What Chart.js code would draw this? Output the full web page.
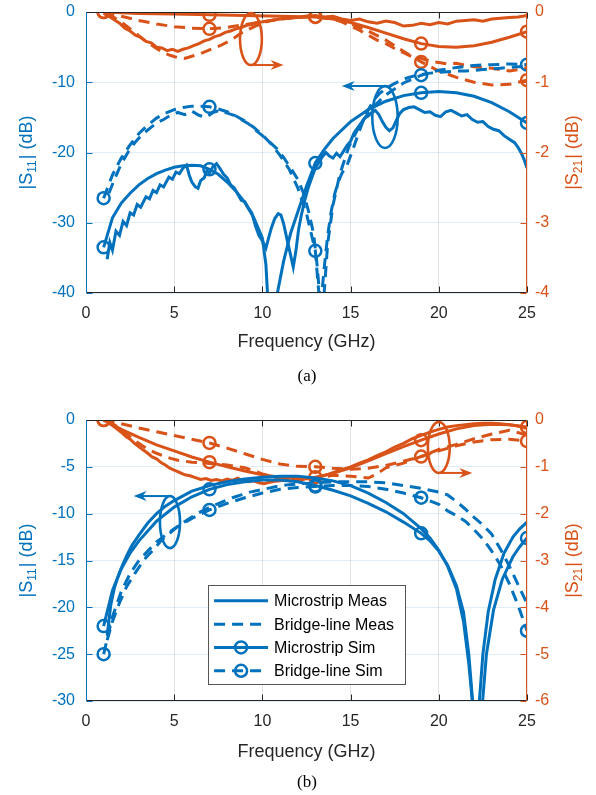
<!DOCTYPE html>
<html>
<head>
<meta charset="utf-8">
<script src="https://cdn.jsdelivr.net/npm/chart.js@4.4.1/dist/chart.umd.min.js"></script>
<style>
  html, body { margin: 0; padding: 0; background: #fff; }
  #page { position: relative; width: 596px; height: 795px; overflow: hidden; }
  canvas { position: absolute; left: 0; }
  #ca { top: 0; }
  #cb { top: 400px; }
  .cap { position: absolute; left: 0; width: 614px; text-align: center; line-height: 20px;
         font: 17px "Liberation Serif", "Times New Roman", serif; color: #000; }
</style>
</head>
<body>
<div id="page">
  <canvas id="ca" width="596" height="400"></canvas>
  <canvas id="cb" width="596" height="395"></canvas>
  <div class="cap" style="top:366px">(a)</div>
  <div class="cap" style="top:772px">(b)</div>
</div>
<script>
const BLUE = '#0072BD';
const ORANGE = '#D95319';
const INK = '#262626';
const FONT = '"Liberation Sans", Arial, Helvetica, sans-serif';

// frequencies (GHz) where the simulated curves carry a marker
const simMarks = [1, 7, 13, 19, 25];
const xTicks = [0, 5, 10, 15, 20, 25];

// ---- (a) |S11| ----
const a_s11MsMeas = [[1.2,-35.2],[1.35,-32.8],[1.5,-33.9],[1.7,-31.2],[1.9,-31.8],[2.1,-29.8],[2.3,-30.4],[2.5,-28.6],[2.7,-28.9],[2.9,-27.4],[3.1,-27.8],[3.4,-26.3],[3.6,-26.6],[3.8,-25.4],[4.0,-25.7],[4.2,-24.6],[4.4,-24.9],[4.7,-23.5],[4.9,-23.8],[5.1,-22.8],[5.3,-23.0],[5.5,-22.2],[5.7,-21.8],[5.85,-23.2],[6.0,-24.2],[6.2,-24.9],[6.35,-25.1],[6.5,-24.0],[6.7,-23.6],[6.85,-22.6],[7.0,-22.9],[7.2,-22.0],[7.4,-21.6],[7.6,-22.3],[7.8,-23.1],[8.0,-23.6],[8.2,-24.6],[8.4,-25.0],[8.6,-25.9],[8.8,-26.8],[9.0,-27.0],[9.2,-27.9],[9.4,-28.6],[9.6,-30.4],[9.8,-31.8],[10.0,-32.6],[10.2,-33.6],[10.35,-32.2],[10.5,-30.8],[10.7,-29.4],[10.9,-28.7],[11.05,-28.9],[11.2,-30.1],[11.4,-32.4],[11.6,-34.6],[11.75,-36.3],[11.9,-34.0],[12.05,-31.0],[12.2,-29.0],[12.4,-26.8],[12.6,-25.0],[12.8,-23.6],[13.0,-22.2],[13.2,-21.4],[13.4,-20.6],[13.6,-20.0],[13.8,-20.5],[14.0,-20.8],[14.2,-20.1],[14.4,-20.6],[14.6,-19.8],[14.8,-19.0],[15.0,-18.4],[15.2,-17.2],[15.4,-16.5],[15.6,-15.8],[15.8,-15.1],[16.0,-14.8],[16.2,-14.3],[16.4,-14.0],[16.6,-14.6],[16.8,-15.6],[17.0,-16.4],[17.2,-16.9],[17.4,-16.5],[17.6,-15.4],[17.8,-14.4],[18.0,-13.9],[18.3,-13.6],[18.6,-13.5],[18.9,-13.9],[19.2,-14.3],[19.5,-14.2],[19.8,-14.7],[20.1,-14.9],[20.4,-14.2],[20.7,-14.0],[21.0,-14.4],[21.3,-14.8],[21.6,-14.6],[21.9,-15.3],[22.2,-15.7],[22.5,-15.6],[22.8,-16.3],[23.1,-16.7],[23.4,-16.9],[23.7,-17.6],[24.0,-18.1],[24.3,-18.6],[24.5,-19.3],[24.7,-20.2],[24.85,-21.1],[25.0,-22.2]];
const a_s11MsSim = [[1,-33.5],[1.5,-29.3],[2,-27.2],[2.5,-25.8],[3,-24.6],[3.5,-23.7],[4,-23.0],[4.5,-22.5],[5,-22.1],[5.5,-21.9],[6,-21.8],[6.5,-21.9],[7,-22.4],[7.5,-23.1],[8,-24.2],[8.5,-25.5],[9,-27.1],[9.5,-29.2],[10,-32.2],[10.2,-36],[10.3,-40.5],[10.45,-46],[10.55,-50],[10.7,-45],[10.85,-40],[11.2,-35.5],[11.6,-31.5],[12,-28.5],[12.5,-24.8],[13,-21.5],[13.5,-19.6],[14,-18.0],[15,-15.6],[16,-13.9],[17,-12.7],[18,-11.9],[19,-11.5],[20,-11.3],[21,-11.5],[22,-12.0],[23,-12.9],[24,-14.2],[25,-15.8]];
const a_s11BlMeas = [[1.3,-25.8],[1.6,-23.9],[2.0,-21.6],[2.4,-19.9],[2.8,-18.5],[3.2,-17.4],[3.6,-16.6],[4.0,-15.8],[4.4,-15.3],[4.8,-14.7],[5.2,-14.3],[5.6,-14.6],[6.0,-14.1],[6.4,-14.7],[6.8,-15.0],[7.2,-14.3],[7.6,-14.0],[8.0,-14.4],[8.4,-14.7],[8.8,-15.3],[9.2,-15.9],[9.6,-16.8],[10.0,-17.6],[10.4,-18.5],[10.8,-19.4],[11.2,-20.7],[11.6,-22.2],[12.0,-23.8],[12.3,-25.6],[12.6,-28.2],[12.9,-31.5],[13.1,-36],[13.3,-42],[13.5,-36.5],[13.7,-31.8],[13.9,-28.4],[14.1,-25.9],[14.3,-24.2],[14.5,-23.0],[14.8,-21.8],[15.1,-19.8],[15.4,-17.6],[15.7,-15.6],[16.0,-13.9],[16.3,-12.6],[16.6,-11.7],[17.0,-10.9],[17.4,-10.3],[17.8,-9.8],[18.2,-9.4],[18.6,-9.1],[19.0,-8.9],[19.5,-8.7],[20.0,-8.6],[20.5,-8.5],[21.0,-8.4],[21.5,-8.4],[22.0,-8.3],[22.5,-8.2],[23.0,-8.1],[23.5,-8.0],[24.0,-7.9],[24.5,-7.8],[25.0,-7.7]];
const a_s11BlSim = [[1,-26.5],[1.5,-23.2],[2,-20.8],[2.5,-18.9],[3,-17.3],[3.5,-16.1],[4,-15.1],[4.5,-14.4],[5,-13.9],[5.5,-13.6],[6,-13.4],[6.5,-13.4],[7,-13.5],[7.5,-13.8],[8,-14.2],[8.5,-14.8],[9,-15.5],[9.5,-16.4],[10,-17.5],[10.5,-18.8],[11,-20.4],[11.5,-22.3],[12,-25.0],[12.5,-28.7],[13,-34],[13.2,-40],[13.35,-46],[13.5,-40],[13.7,-33],[14,-27.5],[14.4,-23],[14.9,-19.2],[15.5,-16.2],[16.2,-13.7],[17,-11.8],[18,-10.1],[19,-9.0],[20,-8.3],[21,-7.9],[22,-7.6],[23,-7.5],[24,-7.4],[25,-7.5]];

// ---- (a) |S21| ----
const a_s21MsMeas = [[1.0,-0.02],[1.3,-0.06],[1.6,-0.11],[1.9,-0.16],[2.2,-0.23],[2.5,-0.27],[2.8,-0.33],[3.1,-0.36],[3.4,-0.42],[3.7,-0.44],[4.0,-0.5],[4.3,-0.51],[4.6,-0.55],[4.9,-0.53],[5.2,-0.56],[5.5,-0.53],[5.8,-0.51],[6.1,-0.48],[6.4,-0.45],[6.7,-0.41],[7.0,-0.39],[7.3,-0.35],[7.6,-0.33],[7.9,-0.29],[8.2,-0.27],[8.5,-0.24],[8.8,-0.22],[9.1,-0.19],[9.4,-0.18],[9.7,-0.15],[10.0,-0.14],[10.5,-0.12],[11.0,-0.1],[11.5,-0.09],[12.0,-0.08],[12.5,-0.06],[13.0,-0.05],[13.5,-0.07],[14.0,-0.06],[14.5,-0.1],[15.0,-0.12],[15.5,-0.1],[16.0,-0.14],[16.5,-0.16],[17.0,-0.13],[17.5,-0.15],[18.0,-0.2],[18.5,-0.19],[19.0,-0.16],[19.5,-0.18],[20.0,-0.15],[20.5,-0.17],[21.0,-0.13],[21.5,-0.12],[22.0,-0.11],[22.5,-0.13],[23.0,-0.1],[23.5,-0.09],[24.0,-0.08],[24.5,-0.07],[25.0,-0.05]];
const a_s21MsSim = [[1,0],[3,-0.02],[5,-0.03],[7,-0.04],[9,-0.05],[11,-0.06],[13,-0.07],[14,-0.1],[15,-0.15],[16,-0.22],[17,-0.3],[18,-0.38],[19,-0.45],[20,-0.49],[21,-0.5],[22,-0.48],[23,-0.43],[24,-0.36],[25,-0.28]];
const a_s21BlMeas = [[1.2,-0.02],[1.6,-0.08],[2.0,-0.14],[2.4,-0.22],[2.8,-0.3],[3.2,-0.38],[3.6,-0.45],[4.0,-0.52],[4.4,-0.58],[4.8,-0.62],[5.2,-0.65],[5.6,-0.66],[6.0,-0.63],[6.4,-0.6],[6.8,-0.56],[7.2,-0.52],[7.6,-0.48],[8.0,-0.43],[8.4,-0.37],[8.8,-0.3],[9.2,-0.25],[9.6,-0.2],[10.0,-0.16],[10.5,-0.12],[11.0,-0.1],[11.5,-0.08],[12.0,-0.07],[12.5,-0.06],[13.0,-0.05],[13.5,-0.08],[14.0,-0.1],[14.5,-0.14],[15.0,-0.2],[15.5,-0.26],[16.0,-0.33],[16.5,-0.4],[17.0,-0.45],[17.5,-0.52],[18.0,-0.58],[18.5,-0.64],[19.0,-0.66],[19.5,-0.7],[20.0,-0.72],[20.5,-0.74],[21.0,-0.73],[21.5,-0.76],[22.0,-0.78],[22.5,-0.79],[23.0,-0.8],[23.5,-0.82],[24.0,-0.84],[24.5,-0.82],[25.0,-0.79]];
const a_s21BlSim = [[1,0],[2,-0.06],[3,-0.12],[4,-0.17],[5,-0.21],[6,-0.23],[7,-0.24],[8,-0.22],[9,-0.18],[10,-0.14],[11,-0.1],[12,-0.08],[13,-0.07],[14,-0.1],[15,-0.17],[16,-0.27],[17,-0.4],[18,-0.56],[19,-0.71],[20,-0.84],[21,-0.93],[22,-1.0],[23,-1.04],[24,-1.03],[25,-0.97]];

// ---- (b) |S11| ----
const b_s11MsMeas = [[1.2,-23],[1.4,-19.8],[1.6,-18],[1.8,-16.8],[2.0,-15.8],[2.3,-14.5],[2.6,-13.4],[3.0,-12.3],[3.5,-11.0],[4.0,-10.0],[4.5,-9.2],[5.0,-8.6],[5.5,-8.1],[6.0,-7.6],[6.5,-7.3],[7.0,-7.0],[8.0,-6.6],[9.0,-6.3],[10.0,-6.1],[11.0,-6.0],[12.0,-6.0],[13.0,-6.2],[14.0,-6.5],[15.0,-7.0],[16.0,-7.8],[17.0,-8.8],[18.0,-10.0],[19.0,-11.6],[19.5,-12.6],[20.0,-13.9],[20.5,-15.6],[21.0,-18.0],[21.4,-21.5],[21.7,-26],[21.95,-31],[22.1,-34],[22.3,-30],[22.5,-25],[22.8,-20.5],[23.2,-17],[23.7,-14.2],[24.2,-12.5],[24.6,-11.6],[25.0,-10.9]];
const b_s11MsSim = [[1,-22],[1.5,-18.2],[2,-15.9],[2.5,-14.2],[3,-12.9],[4,-10.8],[5,-9.3],[6,-8.2],[7,-7.4],[8,-6.9],[9,-6.6],[10,-6.4],[11,-6.4],[12,-6.6],[13,-7.0],[14,-7.5],[15,-8.1],[16,-8.9],[17,-9.8],[18,-10.9],[19,-12.1],[19.5,-12.9],[20,-14.0],[20.5,-15.5],[21,-17.7],[21.4,-20.5],[21.7,-25],[22.0,-32],[22.2,-38],[22.4,-32],[22.7,-25],[23.1,-20.3],[23.6,-17],[24.2,-14.6],[24.6,-13.5],[25,-12.6]];
const b_s11BlMeas = [[1.2,-23.5],[1.5,-21.5],[1.9,-19.5],[2.3,-17.8],[2.8,-16.3],[3.3,-14.9],[3.8,-13.9],[4.3,-12.8],[4.8,-12.0],[5.3,-11.2],[5.8,-10.6],[6.3,-10.0],[6.8,-9.5],[7.3,-9.1],[7.8,-8.7],[8.3,-8.3],[8.8,-8.0],[9.3,-7.7],[9.8,-7.5],[10.3,-7.3],[10.8,-7.1],[11.5,-6.9],[12.2,-6.8],[13,-6.7],[14,-6.6],[15,-6.6],[16,-6.6],[17,-6.7],[18,-7.0],[19,-7.3],[19.5,-7.5],[20,-7.7],[20.5,-8.0],[21,-8.7],[21.5,-9.5],[22,-10.4],[22.5,-11.2],[23,-12.2],[23.5,-13.8],[24,-15.6],[24.5,-17.6],[25,-19.6]];
const b_s11BlSim = [[1,-25],[1.5,-21],[2,-18.3],[2.5,-16.4],[3,-15],[4,-13],[5,-11.6],[6,-10.5],[7,-9.6],[8,-8.9],[9,-8.3],[10,-7.8],[11,-7.4],[12,-7.2],[13,-7.1],[14,-7.0],[15,-7.0],[16,-7.1],[17,-7.4],[18,-7.8],[19,-8.3],[20,-9.0],[20.5,-9.7],[21,-10.2],[21.5,-10.8],[22,-11.7],[22.5,-12.7],[23,-14.0],[23.5,-15.5],[24,-17.5],[24.5,-19.8],[25,-22.5]];

// ---- (b) |S21| ----
const b_s21MsMeas = [[1.0,0],[1.25,-0.05],[1.5,-0.12],[1.75,-0.19],[2.0,-0.26],[2.25,-0.35],[2.5,-0.41],[2.75,-0.5],[3.0,-0.57],[3.25,-0.64],[3.5,-0.71],[3.75,-0.79],[4.0,-0.83],[4.25,-0.91],[4.5,-0.96],[4.75,-1.03],[5.0,-1.07],[5.3,-1.12],[5.6,-1.17],[5.9,-1.19],[6.2,-1.23],[6.5,-1.27],[6.8,-1.25],[7.1,-1.29],[7.4,-1.27],[7.7,-1.3],[8.0,-1.26],[8.3,-1.29],[8.6,-1.24],[8.9,-1.3],[9.2,-1.32],[9.5,-1.3],[9.8,-1.34],[10.1,-1.36],[10.4,-1.33],[10.7,-1.31],[11.0,-1.3],[11.3,-1.28],[11.6,-1.3],[11.9,-1.27],[12.2,-1.28],[12.5,-1.25],[12.8,-1.27],[13.1,-1.24],[13.4,-1.2],[13.8,-1.15],[14.2,-1.1],[14.6,-1.05],[15.0,-1.0],[15.5,-0.92],[16.0,-0.85],[16.5,-0.76],[17.0,-0.68],[17.5,-0.58],[18.0,-0.5],[18.5,-0.4],[19.0,-0.33],[19.5,-0.26],[20.0,-0.2],[20.5,-0.15],[21.0,-0.12],[21.5,-0.1],[22.0,-0.08],[22.5,-0.07],[23.0,-0.07],[23.5,-0.08],[24.0,-0.1],[24.5,-0.13],[25.0,-0.18]];
const b_s21MsSim = [[1,0],[2,-0.2],[3,-0.37],[4,-0.53],[5,-0.66],[6,-0.79],[7,-0.9],[8,-1.0],[9,-1.09],[10,-1.17],[11,-1.22],[12,-1.24],[13,-1.22],[14,-1.14],[15,-1.02],[16,-0.87],[17,-0.72],[18,-0.57],[19,-0.43],[20,-0.3],[21,-0.19],[22,-0.12],[23,-0.09],[24,-0.1],[25,-0.15]];
const b_s21BlMeas = [[1.2,-0.02],[1.6,-0.1],[2.0,-0.2],[2.4,-0.33],[2.8,-0.45],[3.2,-0.55],[3.6,-0.64],[4.0,-0.71],[4.4,-0.77],[4.8,-0.82],[5.2,-0.86],[5.6,-0.88],[6,-0.9],[7,-0.93],[8,-0.96],[9,-1.02],[10,-1.15],[11,-1.25],[12,-1.28],[13,-1.25],[14,-1.18],[15,-1.2],[16,-1.24],[16.5,-1.15],[17,-1.02],[18,-0.92],[19,-0.78],[20,-0.63],[21,-0.52],[22,-0.4],[23,-0.3],[24,-0.22],[25,-0.32]];
const b_s21BlSim = [[1,0],[2,-0.08],[3,-0.17],[4,-0.25],[5,-0.33],[6,-0.41],[7,-0.49],[8,-0.6],[9,-0.72],[10,-0.84],[11,-0.94],[12,-0.99],[13,-1.0],[14,-1.03],[15,-1.05],[16,-1.03],[17,-0.97],[18,-0.88],[19,-0.78],[20,-0.66],[21,-0.55],[22,-0.47],[23,-0.42],[24,-0.41],[25,-0.45]];

const legendLabels = ['Microstrip Meas', 'Bridge-line Meas', 'Microstrip Sim', 'Bridge-line Sim'];

const LINE_W = 3;
const DASH = [11, 7];

function series(points, color, axis, dashed, marked) {
    return {
        data: points.map(p => ({ x: p[0], y: p[1] })),
        yAxisID: axis,
        borderColor: color,
        backgroundColor: 'rgba(0,0,0,0)',
        borderWidth: LINE_W,
        borderDash: dashed ? DASH : [],
        pointRadius: marked ? (c => (c.raw && simMarks.includes(c.raw.x)) ? 6 : 0) : 0,
        pointBorderWidth: 2.5,
        pointBorderColor: color,
        pointBackgroundColor: 'rgba(0,0,0,0)',
        pointHoverRadius: 0,
        tension: 0,
        fill: false,
        clip: 0
    };
}

function arrowHead(ctx, x, y, dir) {
    ctx.beginPath();
    ctx.moveTo(x, y);
    ctx.lineTo(x - dir * 13, y - 5);
    ctx.lineTo(x - dir * 9, y);
    ctx.lineTo(x - dir * 13, y + 5);
    ctx.closePath();
    ctx.fill();
}

function axisTitle(ctx, x, y, sub, color) {
    const big = '18px ' + FONT, small = '12px ' + FONT;
    ctx.save();
    ctx.translate(x, y);
    ctx.rotate(-Math.PI / 2);
    ctx.fillStyle = color;
    ctx.textBaseline = 'middle';
    ctx.textAlign = 'left';
    ctx.font = big;
    const w1 = ctx.measureText('|S').width;
    const w3 = ctx.measureText('| (dB)').width;
    ctx.font = small;
    const w2 = ctx.measureText(sub).width + 1;
    let cx = -(w1 + w2 + w3) / 2;
    ctx.font = big;
    ctx.fillText('|S', cx, 0);
    cx += w1;
    ctx.font = small;
    ctx.fillText(sub, cx, 6);
    cx += w2;
    ctx.font = big;
    ctx.fillText('| (dB)', cx, 0);
    ctx.restore();
}

// axes box, inward ticks, callout ellipses/arrows, axis titles and legend
const decor = {
    id: 'decor',
    afterDatasetsDraw(chart, args, o) {
        const { ctx, chartArea: a, scales } = chart;
        const L = Math.round(a.left) + 0.5, R = Math.round(a.right) - 0.5;
        const T = Math.round(a.top) + 0.5, B = Math.round(a.bottom) - 0.5;
        ctx.save();
        ctx.lineWidth = 1;

        // inward tick marks
        ctx.strokeStyle = INK;
        ctx.beginPath();
        scales.x.ticks.forEach(t => {
            const px = Math.round(scales.x.getPixelForValue(t.value)) + 0.5;
            ctx.moveTo(px, B); ctx.lineTo(px, B - 6);
            ctx.moveTo(px, T); ctx.lineTo(px, T + 6);
        });
        ctx.stroke();
        ctx.strokeStyle = BLUE;
        ctx.beginPath();
        scales.y.ticks.forEach(t => {
            const py = Math.round(scales.y.getPixelForValue(t.value)) + 0.5;
            ctx.moveTo(L, py); ctx.lineTo(L + 6, py);
        });
        ctx.stroke();
        ctx.strokeStyle = ORANGE;
        ctx.beginPath();
        scales.y2.ticks.forEach(t => {
            const py = Math.round(scales.y2.getPixelForValue(t.value)) + 0.5;
            ctx.moveTo(R, py); ctx.lineTo(R - 6, py);
        });
        ctx.stroke();

        // box
        ctx.strokeStyle = INK;
        ctx.beginPath();
        ctx.moveTo(L, T); ctx.lineTo(R, T);
        ctx.moveTo(L, B); ctx.lineTo(R, B);
        ctx.stroke();
        ctx.strokeStyle = BLUE;
        ctx.beginPath(); ctx.moveTo(L, T); ctx.lineTo(L, B); ctx.stroke();
        ctx.strokeStyle = ORANGE;
        ctx.beginPath(); ctx.moveTo(R, T); ctx.lineTo(R, B); ctx.stroke();

        // callouts
        (o.callouts || []).forEach(c => {
            const sx = scales.x, sy = scales[c.axis];
            const color = c.axis === 'y' ? BLUE : ORANGE;
            const cx = sx.getPixelForValue(c.x), cy = sy.getPixelForValue(c.y);
            const rx = Math.abs(sx.getPixelForValue(c.x + c.rx) - cx);
            const ry = Math.abs(sy.getPixelForValue(c.y + c.ry) - cy);
            ctx.strokeStyle = color;
            ctx.fillStyle = color;
            ctx.lineWidth = 2.6;
            ctx.beginPath();
            ctx.ellipse(cx, cy, rx, ry, 0, 0, Math.PI * 2);
            ctx.stroke();
            const ay = sy.getPixelForValue(c.arrowY);
            const x0 = sx.getPixelForValue(c.x);
            const x1 = sx.getPixelForValue(c.arrowTo);
            const dir = x1 > x0 ? 1 : -1;
            ctx.lineWidth = 2;
            ctx.beginPath();
            ctx.moveTo(x0, ay); ctx.lineTo(x1 - dir * 9, ay);
            ctx.stroke();
            arrowHead(ctx, x1, ay, dir);
        });

        // legend
        if (o.legend) {
            const lx = scales.x.getPixelForValue(o.legend.x);
            const ly = scales.y.getPixelForValue(o.legend.y);
            const w = 197, h = 99;
            ctx.fillStyle = '#fff';
            ctx.fillRect(lx, ly, w, h);
            ctx.strokeStyle = '#555';
            ctx.lineWidth = 1;
            ctx.strokeRect(Math.round(lx) + 0.5, Math.round(ly) + 0.5, w, h);
            ctx.font = '16px ' + FONT;
            ctx.textBaseline = 'middle';
            ctx.textAlign = 'left';
            legendLabels.forEach((lab, i) => {
                const ry = ly + 16 + i * 23.3;
                const dashed = i % 2 === 1, marked = i >= 2;
                ctx.strokeStyle = BLUE;
                ctx.lineWidth = LINE_W;
                ctx.setLineDash(dashed ? DASH : []);
                ctx.beginPath();
                ctx.moveTo(lx + 6, ry); ctx.lineTo(lx + 60, ry);
                ctx.stroke();
                ctx.setLineDash([]);
                if (marked) {
                    ctx.lineWidth = 2.5;
                    ctx.beginPath();
                    ctx.arc(lx + 33, ry, 6, 0, Math.PI * 2);
                    ctx.stroke();
                }
                ctx.fillStyle = '#000';
                ctx.fillText(lab, lx + 66, ry + 1);
            });
        }

        // y axis titles with subscripts
        const midY = (a.top + a.bottom) / 2;
        axisTitle(ctx, 27, midY, '11', BLUE);
        axisTitle(ctx, 573, midY, '21', ORANGE);
        ctx.restore();
    }
};

function makeChart(id, opts) {
    return new Chart(document.getElementById(id), {
        type: 'line',
        data: { datasets: opts.datasets },
        plugins: [decor],
        options: {
            responsive: false,
            animation: false,
            events: [],
            devicePixelRatio: 1,
            layout: { padding: { top: opts.padTop, left: 0, right: 0, bottom: 0 } },
            plugins: {
                legend: { display: false },
                tooltip: { enabled: false },
                decor: { callouts: opts.callouts, legend: opts.legend }
            },
            scales: {
                x: {
                    type: 'linear', min: 0, max: 25,
                    afterBuildTicks: s => { s.ticks = xTicks.map(v => ({ value: v })); },
                    afterFit: s => { s.height = opts.xHeight; },
                    border: { display: false },
                    grid: { color: 'rgba(38,38,38,0.13)', drawTicks: false },
                    ticks: { color: INK, font: { family: FONT, size: 16 }, padding: 11, maxRotation: 0 },
                    title: { display: true, text: 'Frequency (GHz)', color: INK,
                             font: { family: FONT, size: 18 }, padding: { top: 0, bottom: opts.titlePad } }
                },
                y: {
                    position: 'left', min: opts.yMin, max: 0,
                    afterBuildTicks: s => { s.ticks = opts.yTicks.map(v => ({ value: v })); },
                    afterFit: s => { s.width = 86; s.paddingTop = 0; s.paddingBottom = 0; },
                    border: { display: false },
                    grid: { color: 'rgba(0,114,189,0.13)', drawTicks: false },
                    ticks: { color: BLUE, font: { family: FONT, size: 16 }, padding: 11 }
                },
                y2: {
                    position: 'right', min: opts.y2Min, max: 0,
                    afterBuildTicks: s => { s.ticks = opts.y2Ticks.map(v => ({ value: v })); },
                    afterFit: s => { s.width = 69; s.paddingTop = 0; s.paddingBottom = 0; },
                    border: { display: false },
                    grid: { drawOnChartArea: false, drawTicks: false },
                    ticks: { color: ORANGE, font: { family: FONT, size: 16 }, padding: 8 }
                }
            }
        }
    });
}

makeChart('ca', {
    padTop: 12, xHeight: 107, titlePad: 47,
    yMin: -40, yTicks: [0, -10, -20, -30, -40],
    y2Min: -4, y2Ticks: [0, -1, -2, -3, -4],
    datasets: [
        series(a_s11MsMeas, BLUE, 'y', false, false),
        series(a_s11BlMeas, BLUE, 'y', true, false),
        series(a_s11MsSim, BLUE, 'y', false, true),
        series(a_s11BlSim, BLUE, 'y', true, true),
        series(a_s21MsMeas, ORANGE, 'y2', false, false),
        series(a_s21BlMeas, ORANGE, 'y2', true, false),
        series(a_s21MsSim, ORANGE, 'y2', false, true),
        series(a_s21BlSim, ORANGE, 'y2', true, true)
    ],
    callouts: [
        { axis: 'y2', x: 9.35, y: -0.385, rx: 0.62, ry: 0.37, arrowY: -0.755, arrowTo: 11.2 },
        { axis: 'y', x: 16.95, y: -14.95, rx: 0.72, ry: 4.4, arrowY: -10.55, arrowTo: 14.5 }
    ]
});

makeChart('cb', {
    padTop: 20, xHeight: 94, titlePad: 32,
    yMin: -30, yTicks: [0, -5, -10, -15, -20, -25, -30],
    y2Min: -6, y2Ticks: [0, -1, -2, -3, -4, -5, -6],
    datasets: [
        series(b_s11MsMeas, BLUE, 'y', false, false),
        series(b_s11BlMeas, BLUE, 'y', true, false),
        series(b_s11MsSim, BLUE, 'y', false, true),
        series(b_s11BlSim, BLUE, 'y', true, true),
        series(b_s21MsMeas, ORANGE, 'y2', false, false),
        series(b_s21BlMeas, ORANGE, 'y2', true, false),
        series(b_s21MsSim, ORANGE, 'y2', false, true),
        series(b_s21BlSim, ORANGE, 'y2', true, true)
    ],
    callouts: [
        { axis: 'y2', x: 20.0, y: -0.587, rx: 0.62, ry: 0.545, arrowY: -1.13, arrowTo: 21.9 },
        { axis: 'y', x: 4.76, y: -10.9, rx: 0.57, ry: 2.78, arrowY: -8.12, arrowTo: 2.7 }
    ],
    legend: { x: 6.92, y: -17.6 }
});
</script>
</body>
</html>
